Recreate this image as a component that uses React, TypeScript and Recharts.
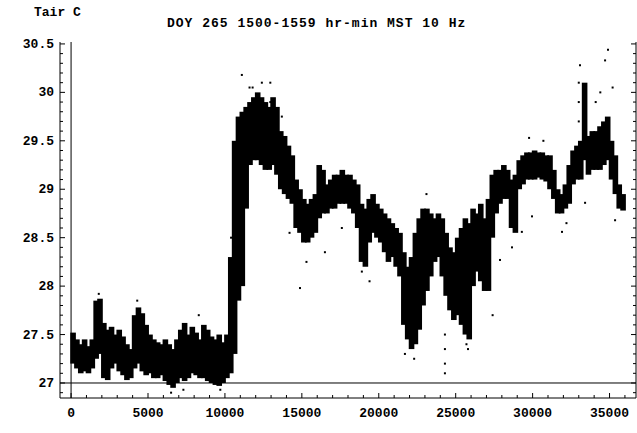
import {
  Bar,
  ComposedChart,
  ReferenceLine,
  Scatter,
  XAxis,
  YAxis,
} from "recharts";

// air temperature, 10 Hz samples, envelope (low / high) per 250-sample bin
const BIN_SIZE = 250;
const tempHigh = [
  27.52, 27.45, 27.4, 27.45, 27.38, 27.45, 27.85, 27.87, 27.62, 27.55,
  27.58, 27.5, 27.55, 27.48, 27.4, 27.35, 27.7, 27.78, 27.72, 27.6,
  27.5, 27.45, 27.42, 27.4, 27.45, 27.4, 27.35, 27.45, 27.55, 27.62,
  27.5, 27.58, 27.52, 27.45, 27.6, 27.55, 27.48, 27.45, 27.5, 27.42,
  27.5, 28.3, 29.5, 29.75, 29.8, 29.85, 29.9, 29.95, 30.0, 29.95,
  29.9, 29.85, 29.95, 29.85, 29.6, 29.55, 29.45, 29.35, 29.1, 29.0,
  28.9, 28.85, 28.9, 28.95, 29.25, 29.2, 29.05, 29.1, 29.15, 29.15,
  29.2, 29.15, 29.15, 29.1, 29.05, 28.85, 28.8, 28.9, 28.95, 28.85,
  28.8, 28.75, 28.7, 28.65, 28.6, 28.55, 28.35, 28.2, 28.3, 28.55,
  28.7, 28.8, 28.8, 28.75, 28.7, 28.75, 28.7, 28.55, 28.4, 28.35,
  28.5, 28.6, 28.7, 28.65, 28.8, 28.75, 28.85, 28.7, 28.9, 29.15,
  29.2, 29.2, 29.25, 29.2, 29.1, 29.15, 29.3, 29.35, 29.38, 29.38,
  29.4, 29.38, 29.38, 29.35, 29.35, 29.2, 29.0, 28.95, 29.05, 29.25,
  29.4, 29.45, 29.5, 30.1, 29.55, 29.6, 29.6, 29.65, 29.7, 29.75,
  29.5, 29.35, 29.05, 28.95,
];
const tempLow = [
  27.2, 27.15, 27.1, 27.12, 27.1, 27.15, 27.25, 27.3, 27.05, 27.03,
  27.15, 27.2, 27.12, 27.08, 27.03, 27.05, 27.15, 27.2, 27.12, 27.08,
  27.1, 27.05, 27.05, 27.08, 27.02, 26.98, 26.95, 27.0, 27.05, 27.02,
  27.05, 27.1, 27.08, 27.05, 27.05, 27.02, 27.0, 26.98, 26.97, 27.0,
  27.05, 27.1, 27.3, 27.85, 28.0, 28.8, 29.25, 29.3, 29.3, 29.25,
  29.2, 29.2, 29.25, 29.15, 29.0, 28.95, 28.9, 28.85, 28.6, 28.55,
  28.45, 28.45, 28.5, 28.55, 28.7, 28.75, 28.75, 28.8, 28.8, 28.85,
  28.85, 28.85, 28.8, 28.75, 28.6, 28.25, 28.2, 28.45, 28.55, 28.5,
  28.45, 28.35, 28.25, 28.3, 28.2, 28.1, 27.6, 27.45, 27.35, 27.4,
  27.55, 27.8, 27.95, 28.1, 28.25, 28.3, 28.1, 27.9, 27.75, 27.65,
  27.7, 27.6, 27.5, 27.45, 28.0, 28.15, 28.05, 27.95, 27.95, 28.5,
  28.75, 28.85, 28.9, 28.9, 28.6, 28.55, 29.0, 29.05, 29.1, 29.1,
  29.1, 29.12, 29.1, 29.08, 29.0, 28.9, 28.75, 28.75, 28.8, 28.85,
  29.05, 29.1, 29.1, 29.3, 29.15, 29.2, 29.2, 29.2, 29.25, 29.3,
  29.1, 28.95, 28.8, 28.78,
];

// stray samples outside the dense band
const dotSample = [
  1800, 4300, 6500, 7300, 8300, 9700, 10400, 10600, 10700, 10900,
  11100, 11600, 11800, 12400, 12950, 12950, 12950, 13700, 14200, 14880,
  15300, 16500, 17600, 18900, 19400, 21700, 22300, 23100, 24300, 24300,
  24300, 24300, 25700, 25800, 27400, 27880, 28660, 29300, 29770, 29960,
  30700, 31910, 32200, 33000, 33000, 33000, 33080, 33410, 34100, 34400,
  34710, 34900, 35200, 35360,
];
const dotTemp = [
  27.92, 27.85, 26.9, 26.93, 27.7, 26.93, 28.5, 28.9, 29.3, 29.65,
  30.18, 30.05, 30.05, 30.1, 30.1, 29.9, 29.7, 29.75, 28.55, 27.98,
  28.25, 28.35, 28.6, 28.15, 28.05, 27.3, 27.25, 28.95, 27.1, 27.2,
  27.35, 27.5, 27.4, 27.35, 27.7, 28.27, 28.4, 28.56, 29.53, 28.72,
  29.5, 28.56, 28.65, 30.1, 29.9, 29.7, 30.28, 28.86, 29.9, 30.0,
  30.33, 30.44, 30.05, 28.68,
];

const xLabels = ["0", "5000", "10000", "15000", "20000", "25000", "30000", "35000"];
const yLabels = ["27", "27.5", "28", "28.5", "29", "29.5", "30", "30.5"];

const X_DOMAIN: [number, number] = [-720, 36720];
const Y_DOMAIN: [number, number] = [26.845, 30.52];
const FONT = "'Liberation Mono', monospace";
const X_MARGIN = 4;
const Y_MARGIN = 6;

const bins = tempHigh.map((hi, i) => ({
  t: i * BIN_SIZE + BIN_SIZE / 2,
  range: [tempLow[i], hi],
}));
const dots = dotSample.map((t, i) => ({ t, v: dotTemp[i] }));

const xTicks: number[] = [];
for (let t = 0; t <= 36000; t += 1000) xTicks.push(t);
const yTicks: number[] = [];
for (let k = 269; k <= 305; k++) yTicks.push(k / 10);

const isMajorX = (v: number) => v % 5000 === 0;
const isMajorY = (v: number) => Math.round(v * 10) % 5 === 0;

const BottomTick = (props: any) => {
  const { x, y, payload } = props;
  const v = payload.value;
  const axisY = y - X_MARGIN;
  const major = isMajorX(v);
  return (
    <g>
      <line x1={x} x2={x} y1={axisY} y2={axisY - (major ? 5 : 3)} stroke="#000" />
      {major && (
        <text x={x} y={axisY + 19} textAnchor="middle" fontFamily={FONT} fontWeight="bold" fontSize={13} fill="#000">
          {xLabels[v / 5000]}
        </text>
      )}
    </g>
  );
};

const TopTick = (props: any) => {
  const { x, y, payload } = props;
  const len = isMajorX(payload.value) ? 5 : 3;
  return <line x1={x} x2={x} y1={y} y2={y + len} stroke="#000" />;
};

const LeftTick = (props: any) => {
  const { x, y, payload } = props;
  const v = payload.value;
  const axisX = x + Y_MARGIN;
  const major = isMajorY(v);
  const idx = Math.round((v - 27) * 2);
  return (
    <g>
      <line x1={axisX} x2={axisX + (major ? 5 : 3)} y1={y} y2={y} stroke="#000" />
      {major && idx >= 0 && (
        <text x={x} y={y + 4} textAnchor="end" fontFamily={FONT} fontWeight="bold" fontSize={13} fill="#000">
          {yLabels[idx]}
        </text>
      )}
    </g>
  );
};

const RightTick = (props: any) => {
  const { x, y, payload } = props;
  const len = isMajorY(payload.value) ? 5 : 3;
  return <line x1={x} x2={x - len} y1={y} y2={y} stroke="#000" />;
};

// widen each bin so neighbouring bins touch like the dense point cloud
const BandShape = (props: any) => {
  const { x, y, width, height } = props;
  if (height == null || width == null) return null;
  return <rect x={x - 0.8} y={y} width={width + 1.6} height={Math.max(height, 1)} fill="#000" />;
};

const Dot = (props: any) => {
  const { cx, cy } = props;
  return <rect x={cx - 1} y={cy - 1} width={2} height={2} fill="#000" />;
};

const textStyle = {
  position: "absolute" as const,
  fontFamily: FONT,
  fontWeight: "bold" as const,
  fontSize: 13,
  color: "#000",
  whiteSpace: "pre" as const,
  lineHeight: "13px",
};

export default function App() {
  return (
    <div style={{ position: "absolute", left: 0, top: 0, width: 637, height: 433, background: "#fff" }}>
      <div style={{ ...textStyle, left: 34, top: 6 }}>Tair C</div>
      <div style={{ ...textStyle, left: 167, top: 17, letterSpacing: 1 }}>DOY 265 1500-1559 hr-min MST 10 Hz</div>
      <ComposedChart
        width={637}
        height={433}
        data={bins}
        margin={{ top: 42, right: 0, bottom: 0, left: 0 }}
        barCategoryGap={0}
      >
        <XAxis
          xAxisId="bottom"
          dataKey="t"
          type="number"
          domain={X_DOMAIN}
          ticks={xTicks}
          interval={0}
          allowDataOverflow
          height={35}
          tickSize={0}
          tickMargin={X_MARGIN}
          tick={<BottomTick />}
          stroke="#000"
        />
        <XAxis
          xAxisId="top"
          orientation="top"
          dataKey="t"
          type="number"
          domain={X_DOMAIN}
          ticks={xTicks}
          interval={0}
          allowDataOverflow
          height={0}
          tickSize={0}
          tickMargin={0}
          tick={<TopTick />}
          stroke="#000"
        />
        <YAxis
          yAxisId="left"
          type="number"
          domain={Y_DOMAIN}
          ticks={yTicks}
          interval={0}
          allowDataOverflow
          width={60}
          tickSize={0}
          tickMargin={Y_MARGIN}
          tick={<LeftTick />}
          stroke="#000"
        />
        <YAxis
          yAxisId="right"
          orientation="right"
          type="number"
          domain={Y_DOMAIN}
          ticks={yTicks}
          interval={0}
          allowDataOverflow
          width={1}
          tickSize={0}
          tickMargin={0}
          tick={<RightTick />}
          stroke="#000"
        />
        <Bar
          xAxisId="bottom"
          yAxisId="left"
          dataKey="range"
          fill="#000"
          shape={<BandShape />}
          isAnimationActive={false}
        />
        <Scatter
          xAxisId="top"
          yAxisId="right"
          data={dots}
          dataKey="v"
          shape={<Dot />}
          isAnimationActive={false}
        />
        <ReferenceLine xAxisId="bottom" yAxisId="left" x={0} stroke="#000" />
        <ReferenceLine xAxisId="bottom" yAxisId="left" y={27} stroke="#000" />
      </ComposedChart>
    </div>
  );
}
